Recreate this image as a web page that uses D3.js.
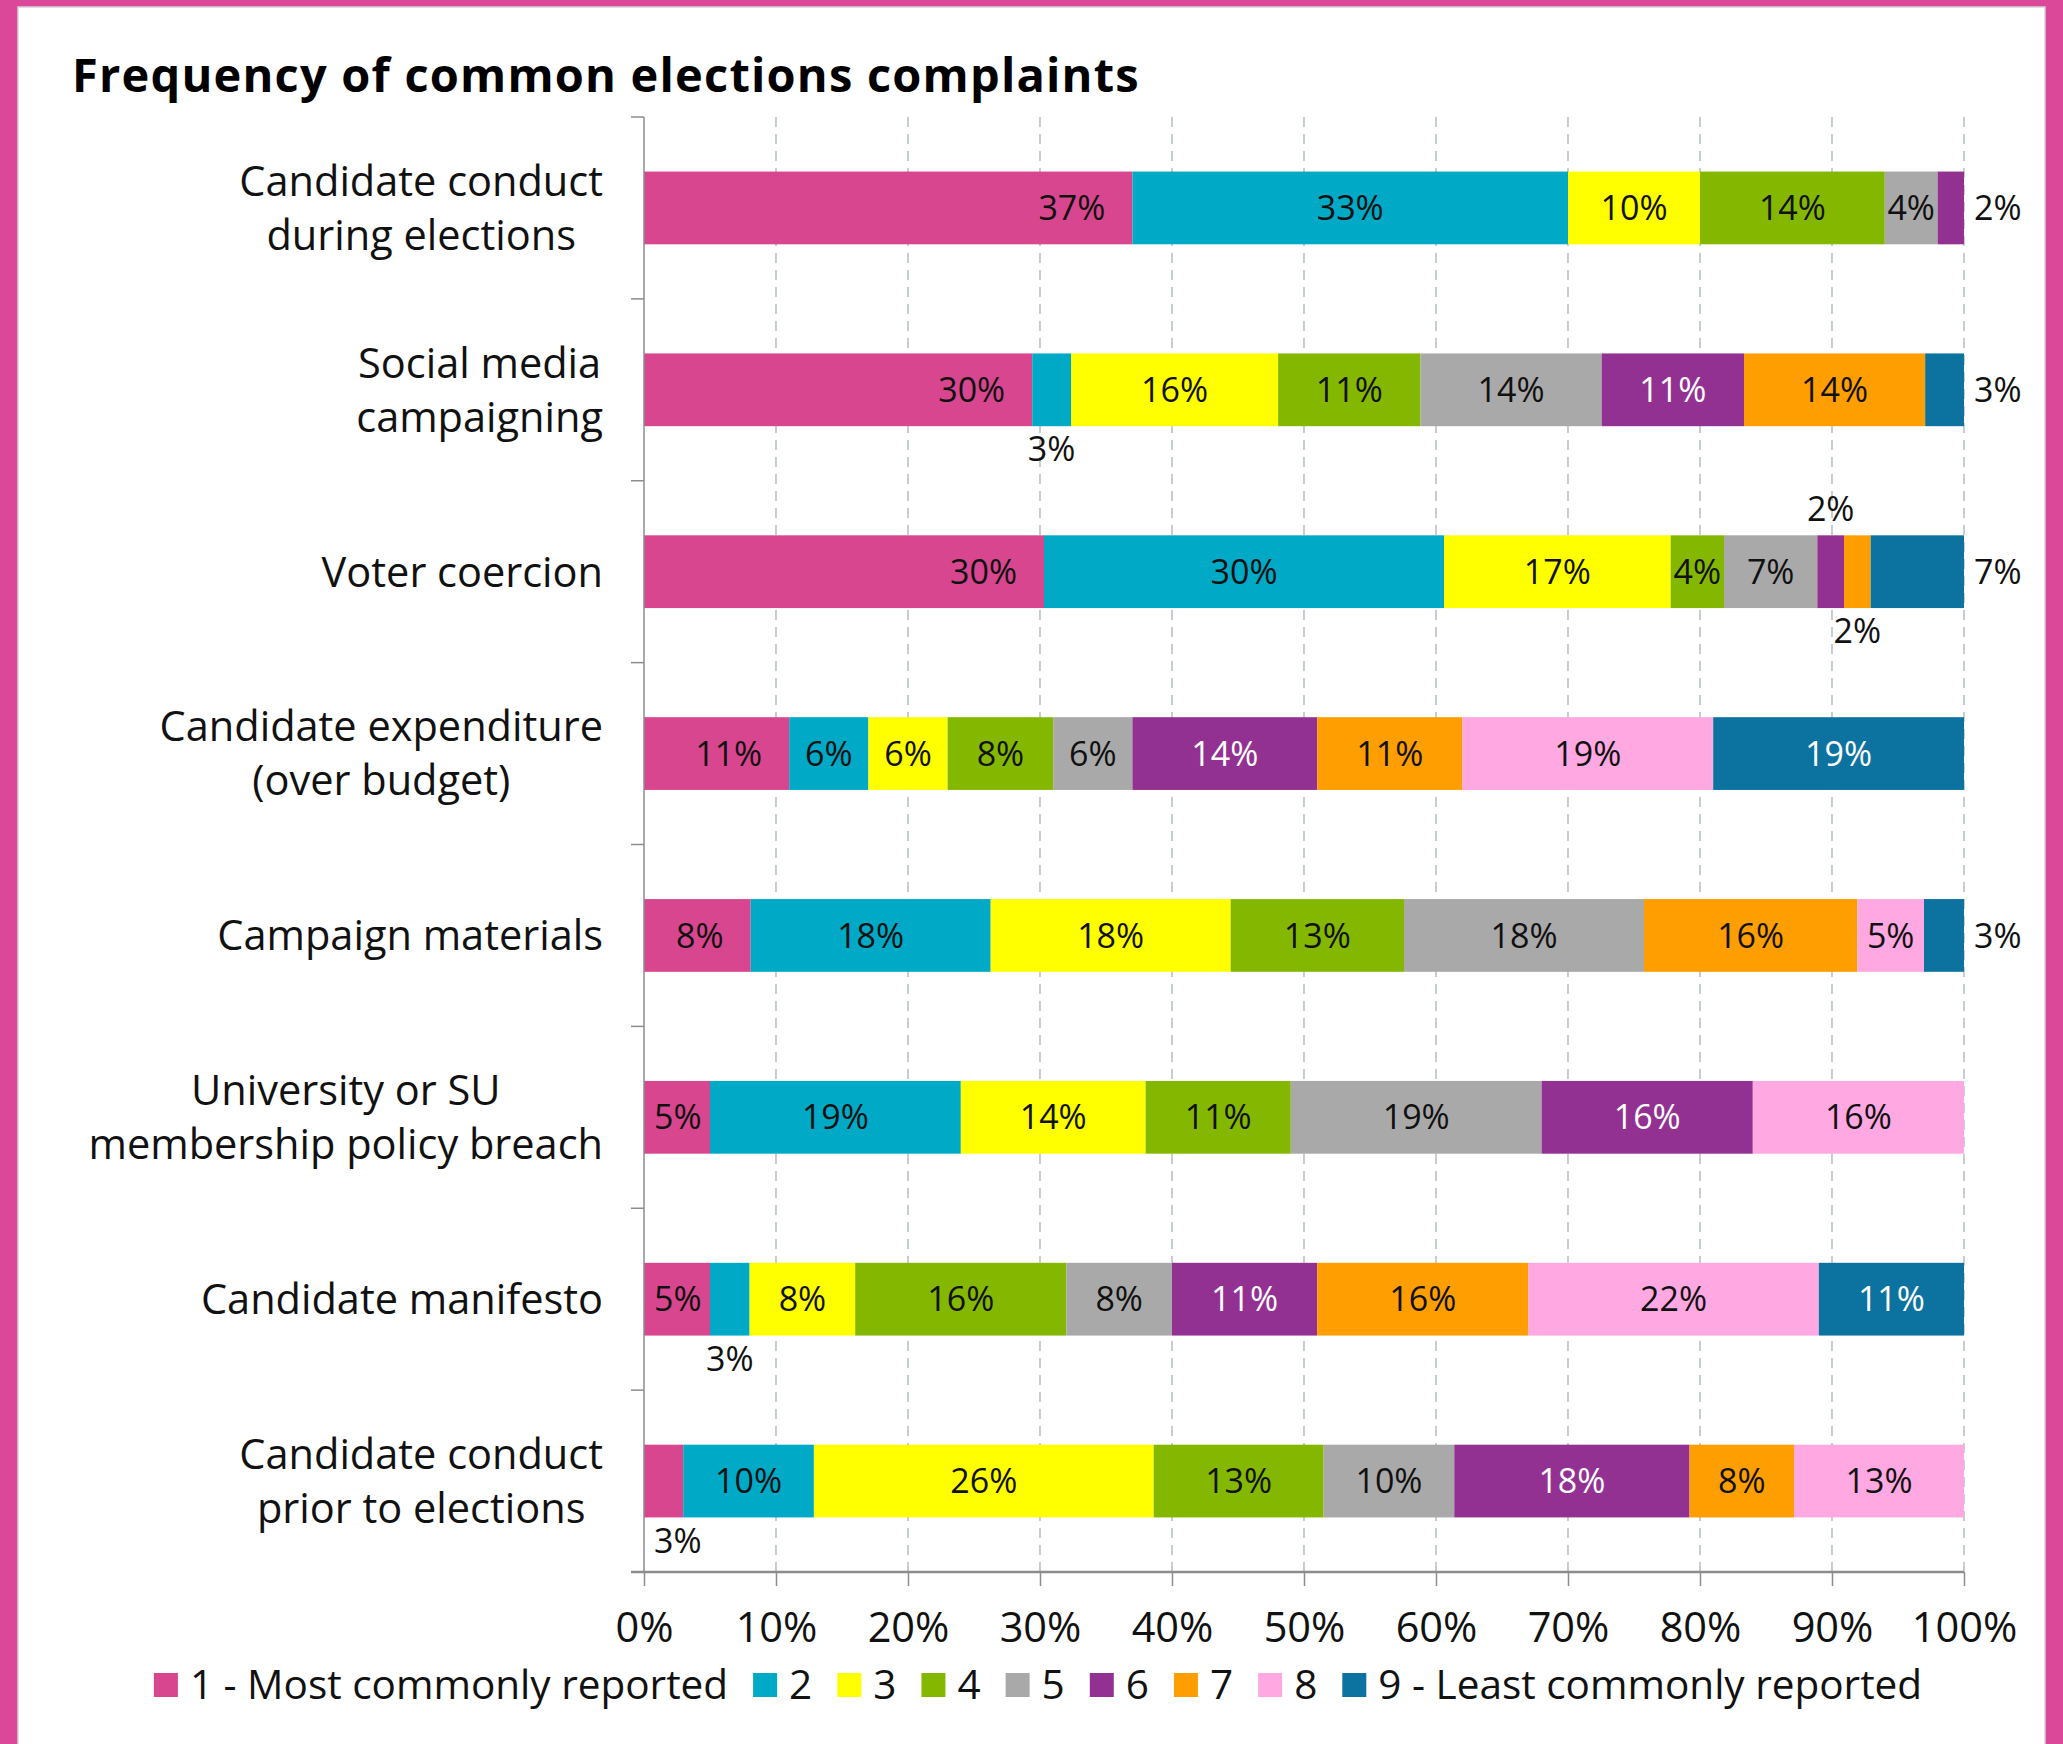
<!DOCTYPE html>
<html>
<head>
<meta charset="utf-8">
<script src="https://cdn.jsdelivr.net/npm/d3@7"></script>
<style>
  html, body { margin: 0; padding: 0; background: #fff; }
  svg { display: block; }
  text { font-family: "Open Sans", "Noto Sans", sans-serif; }
</style>
</head>
<body>
<svg id="chart" width="2063" height="1744"></svg>
<script>
// Complaint categories, top to bottom ("\n" marks a line break in the axis label)
const categories = [
  "Candidate conduct\nduring elections",
  "Social media\ncampaigning",
  "Voter coercion",
  "Candidate expenditure\n(over budget)",
  "Campaign materials",
  "University or SU\nmembership policy breach",
  "Candidate manifesto",
  "Candidate conduct\nprior to elections"
];

// Ranking series (1 = most commonly reported ... 9 = least commonly reported)
const rankNames = ["1 - Most commonly reported", "2", "3", "4", "5", "6", "7", "8", "9 - Least commonly reported"];

// Percentage of responses per category for each rank
const rank1 = [37, 30, 30, 11, 8, 5, 5, 3];
const rank2 = [33, 3, 30, 6, 18, 19, 3, 10];
const rank3 = [10, 16, 17, 6, 18, 14, 8, 26];
const rank4 = [14, 11, 4, 8, 13, 11, 16, 13];
const rank5 = [4, 14, 7, 6, 18, 19, 8, 10];
const rank6 = [2, 11, 2, 14, 0, 16, 11, 18];
const rank7 = [0, 14, 2, 11, 16, 0, 16, 8];
const rank8 = [0, 0, 0, 19, 5, 16, 22, 13];
const rank9 = [0, 3, 7, 19, 3, 0, 11, 0];

const xTicks = [0, 0.1, 0.2, 0.3, 0.4, 0.5, 0.6, 0.7, 0.8, 0.9, 1.0];

const rankColors = ["#D8468F", "#00A9C6", "#FFFF00", "#84B800", "#A9A9A9",
                    "#933192", "#FF9E00", "#FFA8E1", "#0C72A0"];
const lightTextRanks = new Set([6, 9]);

const series = [rank1, rank2, rank3, rank4, rank5, rank6, rank7, rank8, rank9];
const rows = categories.map((c, i) => ({ category: c, values: series.map(s => s[i]) }));

// Small segments whose labels sit outside the bar: "row,rank" -> side
const outsidePlacement = {
  "0,6": "right",
  "1,2": "below", "1,9": "right",
  "2,6": "above", "2,7": "below", "2,9": "right",
  "4,9": "right",
  "6,2": "below",
  "7,1": "below"
};

const W = 2063, H = 1744;
const plot = { left: 644, right: 1964, top: 117, bottom: 1572 };

const svg = d3.select("#chart");

// Page frame: magenta border on three sides, white card inside
svg.append("rect").attr("x", 0).attr("y", 0).attr("width", W).attr("height", H).attr("fill", "#DC4899");
svg.append("rect").attr("x", 18).attr("y", 7).attr("width", 2027).attr("height", H)
  .attr("fill", "#fff").attr("stroke", "#d4d4d4").attr("stroke-width", 1.5);

// Title
svg.append("text")
  .attr("x", 72).attr("y", 92)
  .attr("font-size", 47).attr("font-weight", 700).attr("fill", "#000")
  .attr("letter-spacing", 1.2)
  .text("Frequency of common elections complaints");

const x = d3.scaleLinear().domain([0, 1]).range([plot.left, plot.right]);
const y = d3.scaleBand().domain(categories).range([plot.top, plot.bottom])
  .paddingInner(0.6).paddingOuter(0.3);

// Dashed vertical gridlines
svg.append("g").selectAll("line")
  .data(xTicks.filter(t => t > 0))
  .join("line")
  .attr("x1", d => x(d)).attr("x2", d => x(d))
  .attr("y1", plot.top).attr("y2", plot.bottom)
  .attr("stroke", "#A9B3B8").attr("stroke-width", 1.3)
  .attr("stroke-dasharray", "10,7");

// Stacked 100% bars
const stack = d3.stack()
  .keys(d3.range(9))
  .value((d, k) => d.values[k])
  .offset(d3.stackOffsetExpand);
const stacked = stack(rows);

const barG = svg.append("g");
stacked.forEach((layer, k) => {
  barG.append("g")
    .attr("fill", rankColors[k])
    .selectAll("rect")
    .data(layer.filter(d => d.data.values[k] > 0))
    .join("rect")
    .attr("x", d => x(d[0]))
    .attr("y", d => y(d.data.category))
    .attr("width", d => x(d[1]) - x(d[0]))
    .attr("height", y.bandwidth());
});

// Y axis: line with ticks between categories
const yAxisG = svg.append("g").attr("stroke", "#8C8C8C");
yAxisG.append("line")
  .attr("x1", plot.left).attr("x2", plot.left)
  .attr("y1", plot.top).attr("y2", plot.bottom)
  .attr("stroke-width", 1.5);
yAxisG.selectAll("line.tick")
  .data(d3.range(categories.length + 1))
  .join("line")
  .attr("class", "tick")
  .attr("x1", plot.left - 13).attr("x2", plot.left)
  .attr("y1", i => plot.top + i * y.step())
  .attr("y2", i => plot.top + i * y.step())
  .attr("stroke-width", 1.5);

// X axis
const xAxis = d3.axisBottom(x)
  .tickValues(xTicks)
  .tickFormat(d3.format(".0%"))
  .tickSize(14)
  .tickSizeOuter(0);
const xAxisG = svg.append("g")
  .attr("transform", `translate(0,${plot.bottom})`)
  .call(xAxis);
xAxisG.select(".domain").remove();
xAxisG.append("line")
  .attr("x1", plot.left - 13).attr("x2", plot.right)
  .attr("y1", 0).attr("y2", 0)
  .attr("stroke", "#8C8C8C").attr("stroke-width", 2.5);
xAxisG.selectAll(".tick line").attr("stroke", "#8C8C8C").attr("stroke-width", 1.5);
xAxisG.selectAll(".tick text")
  .attr("y", 70).attr("dy", 0)
  .attr("font-size", 41.5).attr("fill", "#111")
  .style("font-family", "'Open Sans', sans-serif");

// Category labels (multi-line labels centred on each other, block right-aligned)
const catFont = 41.5, catLine = 54, catRight = 603;
categories.forEach(c => {
  const lines = c.split("\n");
  const cy = y(c) + y.bandwidth() / 2;
  const g = svg.append("g");
  const texts = lines.map((ln, j) => g.append("text")
    .attr("font-size", catFont).attr("fill", "#111")
    .attr("y", cy + (j - (lines.length - 1) / 2) * catLine + catFont * 0.357)
    .text(ln));
  const widths = texts.map(t => t.node().getComputedTextLength());
  const maxW = d3.max(widths);
  const center = catRight - maxW / 2;
  texts.forEach(t => t.attr("x", center).attr("text-anchor", "middle"));
});

// Data labels
const lblFont = 34;
const lblG = svg.append("g").attr("font-size", lblFont);
stacked.forEach((layer, k) => {
  const rank = k + 1;
  layer.forEach((d, i) => {
    const v = d.data.values[k];
    if (!v) return;
    const x0 = x(d[0]), x1 = x(d[1]);
    const top = y(d.data.category), bot = top + y.bandwidth();
    const cy = top + y.bandwidth() / 2;
    const side = outsidePlacement[`${i},${rank}`];
    const t = lblG.append("text").text(v + "%");
    const w = t.node().getComputedTextLength();
    let fill = lightTextRanks.has(rank) ? "#fff" : "#111";
    if (side === "right") {
      t.attr("x", plot.right + 10).attr("y", cy + lblFont * 0.357);
      fill = "#111";
    } else if (side === "above" || side === "below") {
      let left = Math.max((x0 + x1) / 2 - w / 2, plot.left + 10);
      const ly = side === "above" ? top - 26 : bot + 23;
      t.attr("x", left).attr("y", ly + lblFont * 0.357);
      fill = "#111";
    } else if (rank === 1) {
      // first segment: label at the inside end of the bar
      let left = Math.max(x1 - 27 - w, plot.left + 10);
      t.attr("x", left).attr("y", cy + lblFont * 0.357);
    } else {
      t.attr("x", (x0 + x1) / 2 - w / 2).attr("y", cy + lblFont * 0.357);
    }
    t.attr("fill", fill);
  });
});

// Legend, centred under the chart
const legFont = 40.5, sw = 24, swGap = 12, itemGap = 25, legCenter = 1038, legY = 1685;
const legG = svg.append("g");
let cursor = 0;
rankNames.forEach((name, k) => {
  const g = legG.append("g");
  g.append("rect").attr("x", cursor).attr("y", legY - sw / 2)
    .attr("width", sw).attr("height", sw).attr("fill", rankColors[k]);
  const t = g.append("text").attr("x", cursor + sw + swGap)
    .attr("y", legY + legFont * 0.357)
    .attr("font-size", legFont).attr("fill", "#111").text(name);
  cursor += sw + swGap + t.node().getComputedTextLength() + itemGap;
});
const legWidth = cursor - itemGap;
legG.attr("transform", `translate(${legCenter - legWidth / 2},0)`);
</script>
</body>
</html>
